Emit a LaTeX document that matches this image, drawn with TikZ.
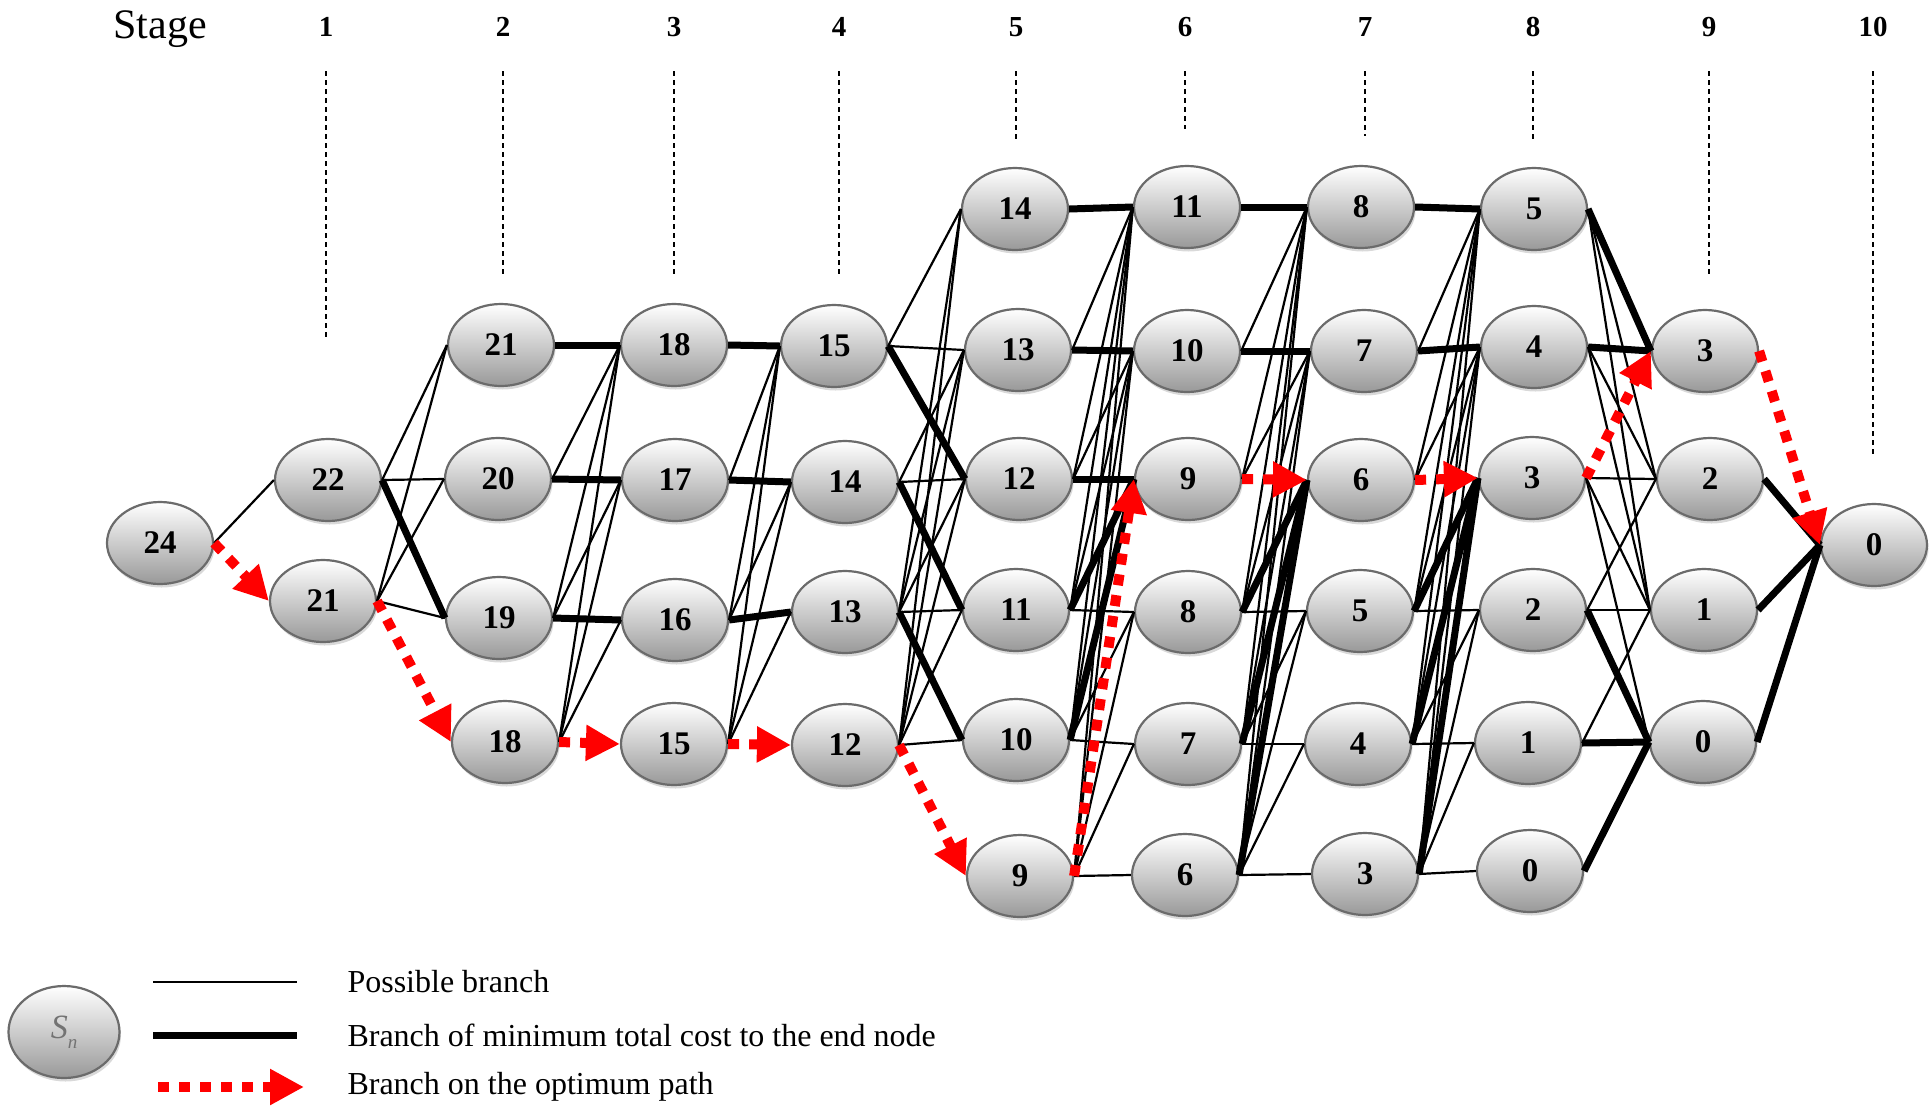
\documentclass[tikz,border=0pt]{standalone}
\usepackage{fontspec}
\setmainfont{Liberation Serif}
\usetikzlibrary{shapes.geometric,shadows,arrows.meta}
\begin{document}
\begin{tikzpicture}[x=1pt,y=-1pt,
  st/.style={ellipse, draw=black!58, line width=2.2pt, minimum width=106pt, minimum height=82pt,
    inner sep=0pt, top color=white, bottom color=black!40,
    drop shadow={opacity=0.3, shadow xshift=1.5pt, shadow yshift=-3.5pt},
    font=\fontsize{33}{36}\selectfont\bfseries},
  thinE/.style={line width=2.2pt, black},
  thickE/.style={line width=7pt, black},
  redE/.style={line width=10pt, red, dash pattern=on 11pt off 10pt, -{Triangle[length=34pt,width=34pt]}},
  hdr/.style={anchor=base, font=\fontsize{29}{34}\selectfont\bfseries},
  vdash/.style={line width=1.3pt, dash pattern=on 5pt off 4pt},
  legtxt/.style={anchor=west, font=\fontsize{32}{38}\selectfont}
]
\useasboundingbox (0,0) rectangle (1932,1112);

% headers
\node[anchor=base, font=\fontsize{42}{48}\selectfont] (hs) at (160,38) {Stage};
\node[hdr] (h1) at (326,36) {1};
\node[hdr] (h2) at (503,36) {2};
\node[hdr] (h3) at (674,36) {3};
\node[hdr] (h4) at (839,36) {4};
\node[hdr] (h5) at (1016,36) {5};
\node[hdr] (h6) at (1185,36) {6};
\node[hdr] (h7) at (1365,36) {7};
\node[hdr] (h8) at (1533,36) {8};
\node[hdr] (h9) at (1709,36) {9};
\node[hdr] (h10) at (1873,36) {10};
\foreach \h/\b in {h1/339,h2/277,h3/274,h4/277,h5/139,h6/129,h7/136,h8/139,h9/277,h10/456}
  \draw[vdash] (\h |- 0,71) -- (\h |- 0,\b);

% nodes
\node[st] (n0-24) at (160,543) {24};
\node[st] (n1-22) at (328,480) {22};
\node[st] (n1-21) at (323,601) {21};
\node[st] (n2-21) at (501,345) {21};
\node[st] (n2-20) at (498,479) {20};
\node[st] (n2-19) at (499,618) {19};
\node[st] (n2-18) at (505,742) {18};
\node[st] (n3-18) at (674,345) {18};
\node[st] (n3-17) at (675,480) {17};
\node[st] (n3-16) at (675,620) {16};
\node[st] (n3-15) at (674,744) {15};
\node[st] (n4-15) at (834,346) {15};
\node[st] (n4-14) at (845,482) {14};
\node[st] (n4-13) at (845,612) {13};
\node[st] (n4-12) at (845,745) {12};
\node[st] (n5-14) at (1015,209) {14};
\node[st] (n5-13) at (1018,350) {13};
\node[st] (n5-12) at (1019,479) {12};
\node[st] (n5-11) at (1016,610) {11};
\node[st] (n5-10) at (1016,740) {10};
\node[st] (n5-9) at (1020,876) {9};
\node[st] (n6-11) at (1187,207) {11};
\node[st] (n6-10) at (1187,351) {10};
\node[st] (n6-9) at (1188,479) {9};
\node[st] (n6-8) at (1188,612) {8};
\node[st] (n6-7) at (1188,744) {7};
\node[st] (n6-6) at (1185,875) {6};
\node[st] (n7-8) at (1361,207) {8};
\node[st] (n7-7) at (1364,351) {7};
\node[st] (n7-6) at (1361,480) {6};
\node[st] (n7-5) at (1360,611) {5};
\node[st] (n7-4) at (1358,744) {4};
\node[st] (n7-3) at (1365,874) {3};
\node[st] (n8-5) at (1534,209) {5};
\node[st] (n8-4) at (1534,347) {4};
\node[st] (n8-3) at (1532,478) {3};
\node[st] (n8-2) at (1533,610) {2};
\node[st] (n8-1) at (1528,743) {1};
\node[st] (n8-0) at (1530,871) {0};
\node[st] (n9-3) at (1705,351) {3};
\node[st] (n9-2) at (1710,479) {2};
\node[st] (n9-1) at (1704,610) {1};
\node[st] (n9-0) at (1703,742) {0};
\node[st] (n10-0) at (1874,545) {0};

% thin branches
\foreach \a/\b in {24/22} \draw[thinE] (n0-\a.east) -- (n1-\b.west);
\foreach \a/\b in {22/21,22/20,21/21,21/20,21/19} \draw[thinE] (n1-\a.east) -- (n2-\b.west);
\foreach \a/\b in {20/18,19/18,19/17,18/18,18/17,18/16} \draw[thinE] (n2-\a.east) -- (n3-\b.west);
\foreach \a/\b in {17/15,16/15,16/14,15/15,15/14,15/13} \draw[thinE] (n3-\a.east) -- (n4-\b.west);
\foreach \a/\b in {15/14,15/13,14/13,14/12,13/14,13/13,13/12,13/11,12/14,12/13,12/12,12/11,12/10}
  \draw[thinE] (n4-\a.east) -- (n5-\b.west);
\foreach \a/\b in {13/11,12/11,12/10,11/11,11/10,11/8,10/11,10/10,10/8,10/7,9/11,9/10,9/8,9/7,9/6}
  \draw[thinE] (n5-\a.east) -- (n6-\b.west);
\foreach \a/\b in {10/8,9/8,9/7,8/8,8/7,8/5,7/8,7/7,7/5,7/4,6/8,6/7,6/5,6/4,6/3}
  \draw[thinE] (n6-\a.east) -- (n7-\b.west);
\foreach \a/\b in {7/5,6/5,6/4,5/5,5/4,5/2,4/5,4/4,4/2,4/1,3/5,3/4,3/2,3/1,3/0}
  \draw[thinE] (n7-\a.east) -- (n8-\b.west);
\foreach \a/\b in {5/2,5/1,4/2,4/1,3/2,3/1,3/0,2/2,2/1,1/1}
  \draw[thinE] (n8-\a.east) -- (n9-\b.west);

% thick branches
\foreach \a/\b in {22/19} \draw[thickE] (n1-\a.east) -- (n2-\b.west);
\foreach \a/\b in {21/18,20/17,19/16} \draw[thickE] (n2-\a.east) -- (n3-\b.west);
\foreach \a/\b in {18/15,17/14,16/13} \draw[thickE] (n3-\a.east) -- (n4-\b.west);
\foreach \a/\b in {15/12,14/11,13/10} \draw[thickE] (n4-\a.east) -- (n5-\b.west);
\foreach \a/\b in {14/11,13/10,12/9,11/9,10/9} \draw[thickE] (n5-\a.east) -- (n6-\b.west);
\foreach \a/\b in {11/8,10/7,8/6,7/6,6/6} \draw[thickE] (n6-\a.east) -- (n7-\b.west);
\foreach \a/\b in {8/5,7/4,5/3,4/3,3/3} \draw[thickE] (n7-\a.east) -- (n8-\b.west);
\foreach \a/\b in {5/3,4/3,2/0,1/0,0/0} \draw[thickE] (n8-\a.east) -- (n9-\b.west);
\foreach \a/\b in {2/0,1/0,0/0} \draw[thickE] (n9-\a.east) -- (n10-\b.west);

% optimum path
\draw[redE] (n0-24.east) -- (n1-21.west);
\draw[redE] (n1-21.east) -- (n2-18.west);
\draw[redE] (n2-18.east) -- (n3-15.west);
\draw[redE] (n3-15.east) -- (n4-12.west);
\draw[redE] (n4-12.east) -- (n5-9.west);
\draw[redE] (n5-9.east) -- (n6-9.west);
\draw[redE] (n6-9.east) -- (n7-6.west);
\draw[redE] (n7-6.east) -- (n8-3.west);
\draw[redE] (n8-3.east) -- (n9-3.west);
\draw[redE] (n9-3.east) -- (n10-0.west);

% legend
\node[st, minimum width=111pt, minimum height=92pt, font=\fontsize{34}{38}\selectfont\itshape, text=black!55] (leg) at (64,1032) {S\raisebox{-0.3em}{\fontsize{19}{21}\selectfont n}};
\coordinate (l1a) at (153,982); \coordinate (l1b) at (297,982);
\coordinate (l2a) at (153,1035); \coordinate (l2b) at (297,1035);
\coordinate (l3a) at (158,1087); \coordinate (l3b) at (304,1087);
\draw[thinE, line width=1.6pt] (l1a) -- (l1b);
\draw[thickE] (l2a) -- (l2b);
\draw[redE] (l3a) -- (l3b);
\node[legtxt] (t1) at (344,982) {Possible branch};
\node[legtxt] (t2) at (344,1035) {Branch of minimum total cost to the end node};
\node[legtxt] (t3) at (344,1087) {Branch on the optimum path};
\end{tikzpicture}
\end{document}
